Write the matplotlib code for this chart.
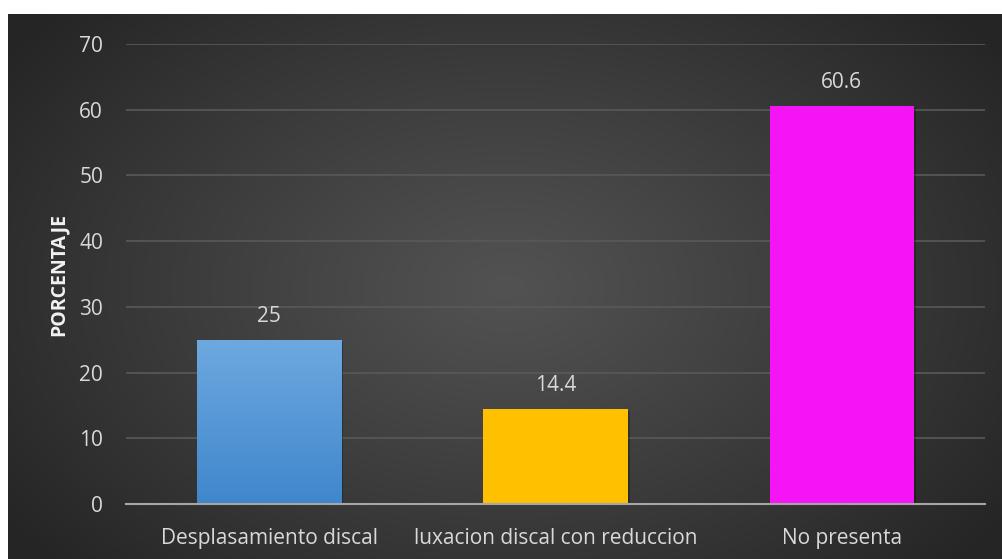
import numpy as np
import matplotlib
matplotlib.use("Agg")
import matplotlib.pyplot as plt
import matplotlib.patheffects as pe
from matplotlib.colors import LinearSegmentedColormap

categories = ["Desplasamiento discal", "luxacion discal con reduccion", "No presenta"]
values = [25, 14.4, 60.6]
labels = ["25", "14.4", "60.6"]
yticks = [0, 10, 20, 30, 40, 50, 60, 70]
bar_colors = ["#4f92d6", "#ffc000", "#f514f5"]

plt.rcParams['font.family'] = ['Open Sans', 'DejaVu Sans']

W, H = 1003, 559
fig = plt.figure(figsize=(W / 100, H / 100), dpi=100, facecolor="white")

# background panel with radial gradient
bg = fig.add_axes([8 / W, 0, (W - 8) / W, (H - 14) / H])
bg.set_axis_off()
ny, nx = 300, 540
yy, xx = np.mgrid[0:ny, 0:nx]
cx, cy = nx * 0.5, ny * 0.5
r = np.sqrt(((xx - cx) / (nx * 0.62)) ** 2 + ((yy - cy) / (ny * 0.75)) ** 2)
r = np.clip(r, 0, 1)
c_in, c_out = 0x52 / 255, 0x25 / 255
val = c_in + (c_out - c_in) * r ** 1.1
img = np.dstack([val, val, val])
bg.imshow(img, aspect="auto", extent=[0, 1, 0, 1], interpolation="bilinear")
bg.set_xlim(0, 1)
bg.set_ylim(0, 1)

ax = fig.add_axes([126 / W, (H - 504) / H, (985 - 126) / W, (504 - 44) / H])
ax.patch.set_alpha(0)
x = np.arange(len(categories))
bars = ax.bar(x, values, width=0.503, color=bar_colors, zorder=3,
              path_effects=[pe.SimplePatchShadow(offset=(1.5, -1.5), shadow_rgbFace="black", alpha=0.25), pe.Normal()])

# gradient on the first bar (lighter at top)
b0 = bars[0]
grad = np.linspace(0, 1, 100).reshape(-1, 1)
cmap = LinearSegmentedColormap.from_list("bl", ["#3f87cc", "#6ea8e0"])
im = ax.imshow(grad, cmap=cmap, aspect="auto", zorder=3.5, origin="lower",
               extent=[b0.get_x(), b0.get_x() + b0.get_width(), 0, b0.get_height()],
               interpolation="bilinear")
im.set_clip_path(b0)

for xi, v, lab in zip(x, values, labels):
    ax.annotate(lab, (xi, v), xytext=(0, 17), textcoords="offset points",
                ha="center", va="center", color="#d9d9d9", fontsize=15)

ax.set_xlim(-0.5, 2.5)
ax.set_ylim(0, 70)
ax.set_yticks(yticks)
ax.set_yticklabels([str(t) for t in yticks])
ax.set_xticks(x)
ax.set_xticklabels(categories)
ax.tick_params(axis="both", length=0, colors="#d9d9d9", labelsize=15)
ax.tick_params(axis="y", pad=16.5)
ax.tick_params(axis="x", pad=17)
ax.grid(axis="y", color="#595959", linewidth=1.2, zorder=0)
ax.set_axisbelow(True)
for s in ["top", "right", "left"]:
    ax.spines[s].set_visible(False)
ax.spines["bottom"].set_color("#a6a6a6")
ax.spines["bottom"].set_linewidth(1.5)
ax.spines["bottom"].set_zorder(4)
ax.set_ylabel("PORCENTAJE", color="#f2f2f2", fontsize=14, fontweight="bold")
ax.yaxis.set_label_coords((69 - 126) / (985 - 126), 0.5)

fig.savefig("out.png", dpi=100, facecolor="white")
